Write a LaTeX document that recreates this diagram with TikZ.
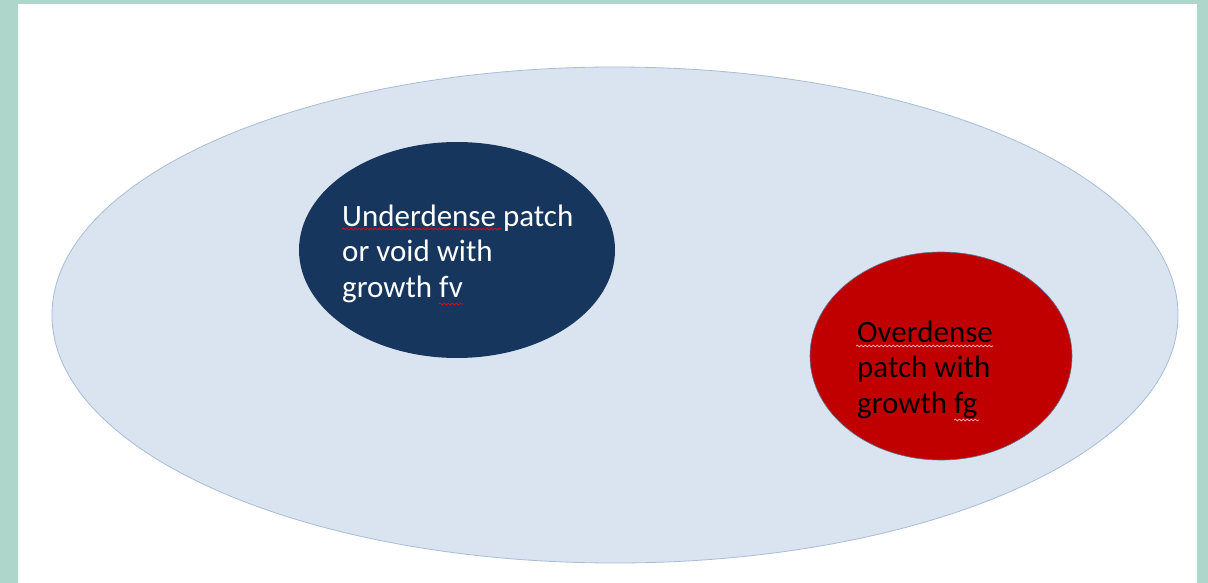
\documentclass[tikz,border=0pt]{standalone}
\usepackage{fontspec}
\setmainfont{Carlito}
\usetikzlibrary{shapes.geometric,decorations.pathmorphing}
\definecolor{bgteal}{HTML}{AED6CA}
\definecolor{paleblue}{HTML}{DAE4F0}
\definecolor{paleedge}{HTML}{A8BCD8}
\definecolor{navy}{HTML}{17365D}
\definecolor{darkred}{HTML}{C00000}
\tikzset{
  blob/.style={ellipse, inner sep=0pt},
  lbl/.style={align=left, inner sep=0pt, anchor=base west, font=\fontsize{31}{35.5}\selectfont},
  squiggle/.style={decorate, decoration={snake, amplitude=0.9pt, segment length=4pt}, line width=0.7pt}
}
\begin{document}
\begin{tikzpicture}[x=1pt,y=-1pt]
\useasboundingbox (0,0) rectangle (1208,583);
\fill[bgteal] (0,0) rectangle (1208,583);
\fill[white] (18,4) rectangle (1197,583);
\node[blob, fill=paleblue, draw=paleedge, line width=0.8pt, minimum width=1126pt, minimum height=496pt] (field) at (615,315) {};
\node[blob, fill=navy, minimum width=316pt, minimum height=216pt] (void) at (457,250) {};
\node[blob, fill=darkred, draw=navy!70, line width=0.6pt, minimum width=262pt, minimum height=208pt] (over) at (941,356) {};
\node[lbl, text=white] (voidtext) at (342,297) {Underdense patch\\or void with\\growth fv};
\node[lbl, text=black] (overtext) at (857,413) {Overdense\\patch with\\growth fg};
\draw[squiggle, red] (342,229) -- (502,229);
\draw[squiggle, red] (439,304) -- (463,304);
\draw[squiggle, red!30] (856,346) -- (993,346);
\draw[squiggle, red!30] (954,420) -- (979,420);
\end{tikzpicture}
\end{document}
